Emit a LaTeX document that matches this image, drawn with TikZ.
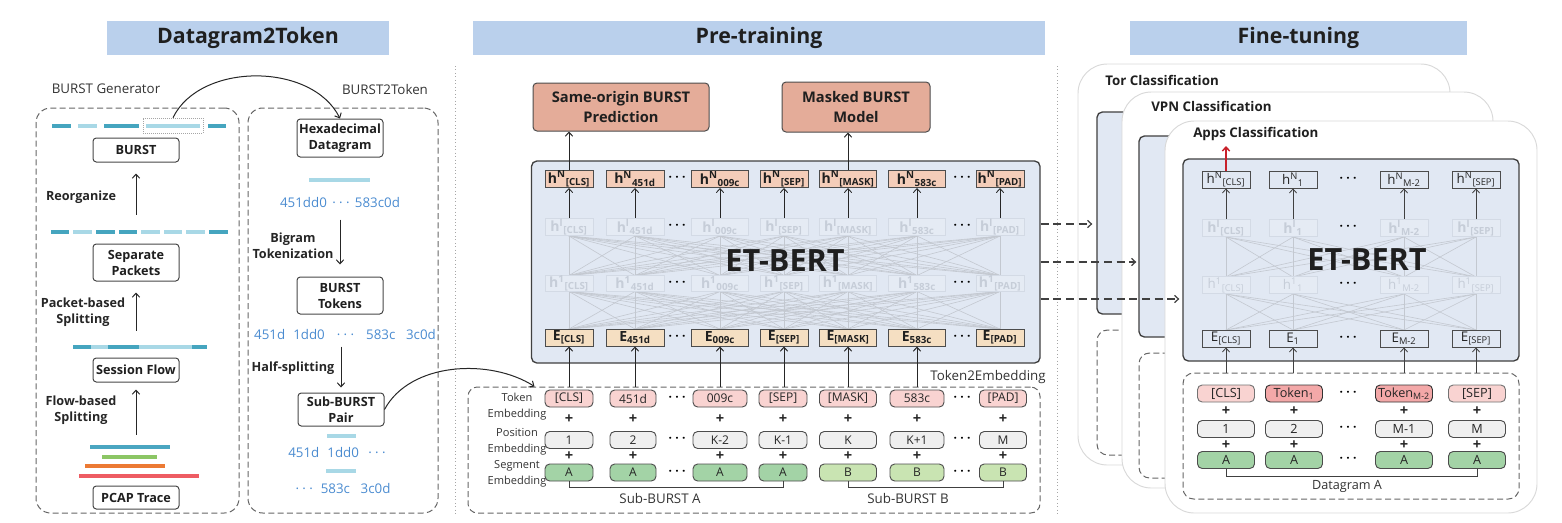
\documentclass[tikz,border=0pt]{standalone}
\usepackage{fontspec}
\setmainfont{Open Sans}
\usetikzlibrary{arrows.meta,calc}
\definecolor{titlebg}{HTML}{BAD0EC}
\definecolor{taskfill}{HTML}{E4AC99}
\definecolor{hnfill}{HTML}{F4CDB9}
\definecolor{efill}{HTML}{F5DFC2}
\definecolor{etfill}{HTML}{E1E8F3}
\definecolor{fadefill}{HTML}{E5EBF4}
\definecolor{tokfill}{HTML}{F9D3D1}
\definecolor{tokdark}{HTML}{F3A8A8}
\definecolor{posfill}{HTML}{EFEFEF}
\definecolor{segA}{HTML}{A3D3A6}
\definecolor{segB}{HTML}{C9E4B2}
\definecolor{hexblue}{HTML}{4A8BD0}
\definecolor{dteal}{HTML}{45A5BF}
\definecolor{lteal}{HTML}{A8D8E6}
\definecolor{lblue}{HTML}{4BA6C1}
\definecolor{lgreen}{HTML}{8CC665}
\definecolor{lorange}{HTML}{EC7A34}
\definecolor{lred}{HTML}{EE5C63}
\definecolor{fadeline}{HTML}{D3DAE5}
\definecolor{fadetext}{HTML}{C6CDD8}
\definecolor{meshc}{HTML}{C3C8D0}
\definecolor{cardline}{HTML}{D9D9D9}
\definecolor{arrred}{HTML}{C8202A}
\newcommand\hsupsub[3]{#1\textsuperscript{#2}\textsubscript{#3}}
\newcommand\mydots{·\hspace{2.5pt}·\hspace{2.5pt}·}
\begin{document}
\begin{tikzpicture}[x=0.75pt,y=-0.75pt,
  wh/.style 2 args={minimum width=#1*0.75pt,minimum height=#2*0.75pt},
  titlebar/.style={fill=titlebg,inner sep=0pt,text=black!88,font=\fontsize{16}{18}\selectfont\bfseries},
  sublbl/.style={font=\fontsize{10}{12}\selectfont,text=black!80,inner sep=0pt},
  gbox/.style={draw=black!72,line width=0.75pt,rounded corners=2.5pt,inner sep=0pt,align=center,fill=white,text=black!88,font=\fontsize{9.5}{12}\selectfont\bfseries},
  steplbl/.style={align=center,inner sep=0pt,font=\fontsize{9.5}{12}\selectfont\bfseries,text=black!85},
  hexs/.style={text=hexblue,font=\fontsize{10}{12}\selectfont,inner sep=0pt},
  arr/.style={-{Straight Barb[length=3pt,width=5.5pt]},line width=0.75pt,draw=black!85},
  dbox/.style={draw=black!60,line width=0.75pt,dash pattern=on 4.5pt off 2.5pt,rounded corners=11pt,inner sep=0pt},
  task/.style={draw=black!70,fill=taskfill,line width=0.75pt,rounded corners=3pt,align=center,inner sep=0pt,text=black!88,font=\fontsize{11}{15}\selectfont\bfseries},
  etbox/.style={draw=black!75,fill=etfill,line width=1pt,rounded corners=4pt,inner sep=0pt},
  hbox/.style={draw=black!70,line width=0.7pt,inner sep=0pt,text=black!88,font=\fontsize{10.5}{12}\selectfont\bfseries},
  fadebox/.style={draw=fadeline,fill=fadefill,line width=0.5pt,text=fadetext,inner sep=0pt,font=\fontsize{10.5}{12}\selectfont\bfseries},
  fadeboxn/.style={fadebox,font=\fontsize{10}{12}\selectfont},
  mesh/.style={draw=meshc,line width=0.45pt},
  tbox/.style={draw=black!70,line width=0.7pt,rounded corners=3.5pt,inner sep=0pt,text=black!85,font=\fontsize{9}{10}\selectfont},
  plus/.style={font=\fontsize{11}{12}\selectfont\bfseries,inner sep=0pt,text=black!85},
  dotn/.style={font=\fontsize{9}{10}\selectfont\bfseries,inner sep=0pt},
  rowlbl/.style={align=center,inner sep=0pt,font=\fontsize{8.3}{12}\selectfont,text=black!80},
  card/.style={draw=cardline,fill=white,line width=0.7pt,rounded corners=22pt,inner sep=0pt},
  cardlbl/.style={anchor=west,inner sep=0pt,text=black!88,font=\fontsize{10}{12}\selectfont\bfseries},
  fhbox/.style={draw=black!70,line width=0.7pt,inner sep=0pt,text=black!85,font=\fontsize{10}{12}\selectfont},
  dasharr/.style={-{Straight Barb[length=3pt,width=5.5pt]},line width=0.9pt,draw=black!75,dash pattern=on 6pt off 3.5pt},
  sepline/.style={draw=black!35,line width=0.6pt,dotted},
  thinarr/.style={arr,line width=0.6pt,draw=black!75},
  biglbl/.style={font=\fontsize{23}{26}\selectfont\bfseries,text=black!88,inner sep=0pt,text height=16.5pt,text depth=0pt}
]
\useasboundingbox (0,0) rectangle (1562,522);
% ---------- titles ----------
\node[titlebar,wh={282}{34}] (t1) at (248,38) {Datagram2Token};
\node[titlebar,wh={572}{34}] (t2) at (759,38) {Pre-training};
\node[titlebar,wh={337}{34}] (t3) at (1298.5,38) {Fine-tuning};
\coordinate (s1a) at (455,66); \coordinate (s1b) at (455,516);
\coordinate (s2a) at (1057,66); \coordinate (s2b) at (1057,516);
\draw[sepline] (s1a) -- (s1b);
\draw[sepline] (s2a) -- (s2b);

% ---------- Datagram2Token ----------
\node[sublbl] (bglbl) at (106,89) {BURST Generator};
\node[sublbl] (b2tlbl) at (385,89) {BURST2Token};
\node[dbox,wh={203}{405}] (genbox) at (137.5,310.5) {};
\node[dbox,wh={190}{405}] (b2tbox) at (343,310.5) {};

\foreach \a/\b/\c in {52/71/dteal,78/97/lteal,104/139/dteal,146/200/lteal,208/226/dteal}
  \draw[\c,line width=2.3pt] (\a,126) -- (\b,126);
\node[draw=black!35,densely dotted,line width=0.5pt,wh={60}{15},inner sep=0pt] (selbox) at (173,125.5) {};
\node[gbox,wh={86}{24}] (burst) at (136,150) {BURST};
\draw[arr] ($(burst.south)+(0,52)$) -- ($(burst.south)+(0,11)$);
\node[steplbl] (reorg) at (81,197) {Reorganize};
\foreach \a/\b/\c in {51/69/dteal,73/92/lteal,96/115/dteal,119/137/dteal,141/160/lteal,164/182/lteal,186/205/lteal,209/228/dteal}
  \draw[\c,line width=2.3pt] (\a,232) -- (\b,232);
\node[gbox,wh={86}{37}] (seppk) at (136,262.5) {Separate\\Packets};
\draw[arr] ($(seppk.south)+(0,49)$) -- ($(seppk.south)+(0,11)$);
\node[steplbl] (pktsplit) at (83,312) {Packet-based\\Splitting};
\foreach \a/\b/\c in {73/91/dteal,91/108/lteal,108/139/dteal,139/192/lteal,192/207/dteal}
  \draw[\c,line width=2.3pt] (\a,347) -- (\b,347);
\node[gbox,wh={86}{24}] (sflow) at (136,370) {Session Flow};
\draw[arr] ($(sflow.south)+(0,52)$) -- ($(sflow.south)+(0,7)$);
\node[steplbl] (flowsplit) at (81,410) {Flow-based\\Splitting};
\draw[lblue,line width=2.3pt] (90,447) -- (170,447);
\draw[lgreen,line width=2.3pt] (102,457) -- (157,457);
\draw[lorange,line width=2.3pt] (85,466) -- (165,466);
\draw[lred,line width=2.3pt] (79,476) -- (199,476);
\node[gbox,wh={86}{23}] (pcap) at (136,497.5) {PCAP Trace};

\node[gbox,wh={86}{38}] (hexd) at (340,138) {Hexadecimal\\Datagram};
\draw[arr] (selbox.north) .. controls (200,62) and (312,62) .. (hexd.north);
\draw[lteal,line width=2.3pt] (309,180) -- (370,180);
\node[hexs] (hexstr) at (340,202) {451dd0\hspace{4pt}\mydots\hspace{4pt}583c0d};
\node[gbox,wh={86}{37}] (btok) at (340,295.5) {BURST\\Tokens};
\draw[arr] ($(btok.north)+(0,-57)$) -- ($(btok.north)+(0,-12)$);
\node[steplbl] (bigram) at (293,246) {Bigram\\Tokenization};
\node[hexs] (tokstr) at (345,334) {451d\hspace{6pt}1dd0\hspace{9pt}\mydots\hspace{9pt}583c\hspace{8pt}3c0d};
\node[gbox,wh={86}{33}] (sbp) at (341,409.5) {Sub-BURST\\Pair};
\draw[arr] ($(sbp.north)+(0,-46)$) -- ($(sbp.north)+(0,-5)$);
\node[steplbl] (halfsplit) at (293,368) {Half-splitting};
\draw[lteal,line width=2.3pt] (327,436) -- (356,436);
\node[hexs] (subA) at (337,452) {451d\hspace{6pt}1dd0\hspace{7pt}\mydots};
\draw[lteal,line width=2.3pt] (326,471) -- (356,471);
\node[hexs] (subB) at (343,488) {\mydots\hspace{6pt}583c\hspace{8pt}3c0d};

% ---------- Pre-training ----------
\node[task,wh={176}{48}] (sop) at (621,107) {Same-origin BURST\\Prediction};
\node[task,wh={148}{50}] (mbm) at (856,107) {Masked BURST\\Model};
\node[etbox,wh={508.5}{202}] (etb) at (785.75,262) {};
\foreach \i/\cx/\w/\s in {1/569/48/{[CLS]},2/635/58/451d,3/720/57/009c,4/784/48/{[SEP]},5/848/57/{[MASK]},6/917/57/583c,7/1000/48/{[PAD]}} {
  \coordinate (hlc\i) at (\cx,227);
  \coordinate (hfc\i) at (\cx,283.5);
}
\foreach \i in {1,...,7} \foreach \j in {1,...,7} {
  \draw[mesh] ($(hlc\i)+(0,9)$) -- ($(hfc\j)+(0,-8)$);
  \draw[mesh] ($(hfc\i)+(0,8)$) -- ($(hfc\j)+(0,45.5)$);
}
\foreach \i/\cx/\w/\s in {1/569/48/{[CLS]},2/635/58/451d,3/720/57/009c,4/784/48/{[SEP]},5/848/57/{[MASK]},6/917/57/583c,7/1000/48/{[PAD]}} {
  \node[fadebox,wh={\w}{17}] (hl\i) at (\cx,227) {\hsupsub{h}{l}{\s}};
  \node[fadebox,wh={\w}{16}] (hf\i) at (\cx,283.5) {\hsupsub{h}{1}{\s}};
  \node[hbox,fill=hnfill,wh={\w}{17}] (hN\i) at (\cx,179) {\hsupsub{h}{N}{\s}};
  \node[hbox,fill=efill,wh={\w}{17}] (E\i) at (\cx,337.5) {E\textsubscript{\s}};
  \draw[arr,line width=0.65pt] (hl\i.north) -- (hN\i.south);
}
\node[biglbl] (etlbl) at (785,260.5) {ET-BERT};
\draw[arr] (hN1.north) -- (sop.south -| hN1.north);
\draw[arr] (hN5.north) -- (mbm.south -| hN5.north);

\node[sublbl] (t2elbl) at (988,377) {Token2Embedding};
\node[dbox,rounded corners=7pt,wh={572}{126}] (t2e) at (754,450) {};
\node[rowlbl] (rl1) at (517,407) {Token\\Embedding};
\node[rowlbl] (rl2) at (517,441.5) {Position\\Embedding};
\node[rowlbl] (rl3) at (517,474) {Segment\\Embedding};
\foreach \i/\cx/\w/\t/\p/\g/\gc in {1/569/48/{[CLS]}/1/A/segA,2/633/46/451d/2/A/segA,3/720/54/009c/K-2/A/segA,4/783/48/{[SEP]}/K-1/A/segA,5/848/57/{[MASK]}/K/B/segB,6/917/54/583c/K+1/B/segB,7/1003/47/{[PAD]}/M/B/segB} {
  \node[tbox,fill=tokfill,wh={\w}{17}] (tk\i) at (\cx,398.5) {\t};
  \node[tbox,fill=posfill,wh={\w}{17}] (ps\i) at (\cx,440) {\p};
  \node[tbox,fill=\gc,wh={\w}{17}] (sg\i) at (\cx,472.5) {\g};
  \node[plus] (pa\i) at (\cx,419.5) {+};
  \node[plus] (pb\i) at (\cx,456) {+};
}
\foreach \i in {1,...,6} \draw[arr] (E\i |- t2e.north) -- (E\i.south);
\foreach \dx in {677,962} \foreach \dy in {179,227,283.5,337.5,398.5,440,472.5}
  \node[dotn] (dm-\dx-\dy) at (\dx,\dy) {\mydots};
\draw[line width=0.7pt,black!75] (sg1.south) -- ++(0,6) -| (sg4.south);
\draw[line width=0.7pt,black!75] (sg5.south) -- ++(0,6) -| (sg7.south);
\node[sublbl,font=\fontsize{10}{12}\selectfont] (sbA) at (660,498) {Sub-BURST A};
\node[sublbl,font=\fontsize{10}{12}\selectfont] (sbB) at (908,498) {Sub-BURST B};
\draw[arr] (sbp.east) .. controls (410,362) and (490,358) .. ($(t2e.north west)+(67,0)$);

% ---------- Fine-tuning ----------
\node[card,wh={372}{401}] (torcard) at (1264,264.5) {};
\node[etbox,wh={303}{202}] (torbert) at (1248.5,213) {};
\node[dbox,rounded corners=8pt,wh={303}{125}] (tord) at (1248.5,392.5) {};
\node[cardlbl] (torlbl) at (1105,80) {Tor Classification};
\node[card,wh={371}{396}] (vpncard) at (1307.5,290) {};
\node[etbox,wh={311}{201}] (vpnbert) at (1294.5,236.5) {};
\node[dbox,rounded corners=8pt,wh={311}{125}] (vpnd) at (1294.5,415.5) {};
\node[cardlbl] (vpnlbl) at (1151,106) {VPN Classification};
\node[card,wh={372}{392}] (appcard) at (1351,317) {};
\node[etbox,wh={336}{202}] (appbert) at (1351,260) {};
\node[dbox,rounded corners=8pt,wh={336}{126}] (appd) at (1351,436) {};
\node[cardlbl] (applbl) at (1193,134) {Apps Classification};

\foreach \i/\cx/\s in {1/1226/{[CLS]},2/1293/1,3/1404/M-2,4/1476/{[SEP]}} {
  \coordinate (fhlc\i) at (\cx,228);
  \coordinate (fhfc\i) at (\cx,285);
}
\foreach \i in {1,...,4} \foreach \j in {1,...,4} {
  \draw[mesh] ($(fhlc\i)+(0,9)$) -- ($(fhfc\j)+(0,-8)$);
  \draw[mesh] ($(fhfc\i)+(0,9)$) -- ($(fhfc\j)+(0,45)$);
}
\foreach \i/\cx/\s in {1/1226/{[CLS]},2/1293/1,3/1404/M-2,4/1476/{[SEP]}} {
  \node[fadebox,wh={48}{17}] (fhl\i) at (\cx,228) {\hsupsub{h}{l}{\s}};
  \node[fadeboxn,wh={48}{17}] (fhf\i) at (\cx,285) {\hsupsub{h}{1}{\s}};
  \node[fhbox,wh={48}{17}] (fhN\i) at (\cx,179.5) {\hsupsub{h}{N}{\s}};
  \node[fhbox,wh={48}{17}] (fE\i) at (\cx,338.5) {E\textsubscript{\s}};
  \draw[thinarr] (fhl\i.north) -- (fhN\i.south);
  \draw[thinarr] (fE\i |- appd.north) -- (fE\i.south);
}
\node[biglbl] (fetlbl) at (1367,259) {ET-BERT};
\coordinate (redtip) at (1226,146);
\draw[arr,draw=arrred,line width=1.1pt] (fhN1.north) -- (redtip);
\foreach \i/\cx/\t/\p/\tc/\bc in {1/1226/{[CLS]}/1/tokfill/black!55,2/1294/{Token\textsubscript{1}}/2/tokdark/black!80,3/1404/{Token\textsubscript{M-2}}/M-1/tokdark/black!80,4/1477/{[SEP]}/M/tokfill/black!55} {
  \node[tbox,draw=\bc,fill=\tc,wh={57}{17},font=\fontsize{9.5}{10}\selectfont] (ftk\i) at (\cx,393.5) {\t};
  \node[tbox,fill=posfill,wh={57}{17},font=\fontsize{9.5}{10}\selectfont] (fps\i) at (\cx,429) {\p};
  \node[tbox,fill=segA,wh={57}{17},font=\fontsize{9.5}{10}\selectfont] (fsg\i) at (\cx,460) {A};
  \node[plus] (fpa\i) at (\cx,411) {+};
  \node[plus] (fpb\i) at (\cx,445) {+};
}
\foreach \dy in {179.5,228,285,338.5,393.5,429,460}
  \node[dotn] (df-\dy) at (1348,\dy) {\mydots};
\draw[line width=0.7pt,black!75] (fsg1.south) -- ++(0,7) -| (fsg4.south);
\node[sublbl,font=\fontsize{9.5}{12}\selectfont] (dgA) at (1347,486) {Datagram A};

% ---------- dashed transfer arrows ----------
\coordinate (ya) at (0,224); \coordinate (yb) at (0,262); \coordinate (yc) at (0,299);
\draw[dasharr] (etb.east |- ya) -- ($(torbert.west |- ya)+(-4,0)$);
\draw[dasharr] (etb.east |- yb) -- ($(vpnbert.west |- yb)+(-2,0)$);
\draw[dasharr] (etb.east |- yc) -- ($(appbert.west |- yc)+(-3,0)$);
\end{tikzpicture}
\end{document}
